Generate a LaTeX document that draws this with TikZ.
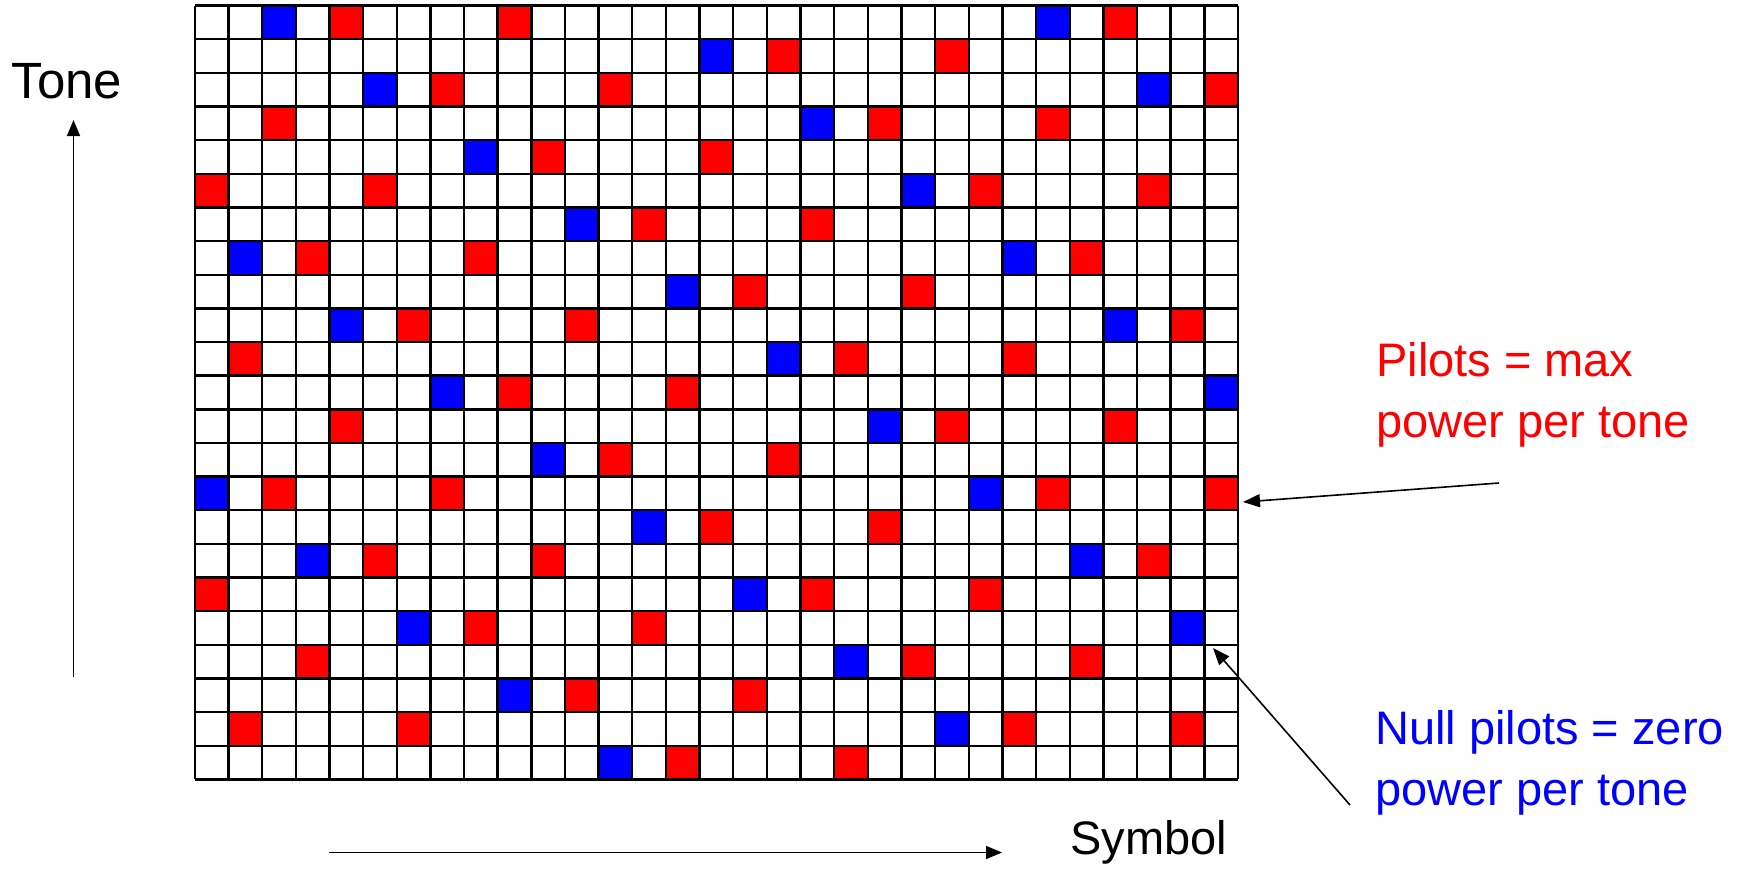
\documentclass[tikz,border=0pt]{standalone}
\usepackage{fontspec}
\setmainfont{Liberation Sans}
\usetikzlibrary{arrows.meta}
\begin{document}
\begin{tikzpicture}[x=1pt,y=-1pt,
  lbl/.style={inner sep=0pt,font=\fontsize{47}{61}\selectfont,align=left},
  axis/.style={line width=1.6pt,-{Triangle[length=16pt,width=13pt]}},
  pointer/.style={line width=1.6pt,-{Triangle[length=17pt,width=13pt]}},
  pilotcell/.style={fill=red},
  nullcell/.style={fill=blue},
  gridline/.style={line width=2.4pt,black}]
\useasboundingbox (0,0) rectangle (1745,868);
\def\gx{194.8}\def\gy{5.5}\def\cs{33.65}
% colored cells
\foreach \c/\r in {4/0,9/0,27/0,17/1,22/1,7/2,12/2,30/2,2/3,20/3,25/3,10/4,15/4,
  0/5,5/5,23/5,28/5,13/6,18/6,3/7,8/7,26/7,16/8,21/8,6/9,11/9,29/9,1/10,19/10,24/10,
  9/11,14/11,4/12,22/12,27/12,12/13,17/13,2/14,7/14,25/14,30/14,15/15,20/15,
  5/16,10/16,28/16,0/17,18/17,23/17,8/18,13/18,3/19,21/19,26/19,11/20,16/20,
  1/21,6/21,24/21,29/21,14/22,19/22}
  \fill[pilotcell] ({\gx+\c*\cs},{\gy+\r*\cs}) rectangle ++(\cs,\cs);
\foreach \c/\r in {2/0,25/0,15/1,5/2,28/2,18/3,8/4,21/5,11/6,1/7,24/7,14/8,4/9,27/9,
  17/10,7/11,30/11,20/12,10/13,0/14,23/14,13/15,3/16,26/16,16/17,6/18,29/18,19/19,
  9/20,22/21,12/22}
  \fill[nullcell] ({\gx+\c*\cs},{\gy+\r*\cs}) rectangle ++(\cs,\cs);
% grid
\foreach \i in {0,...,31}
  \draw[gridline] ({\gx+\i*\cs},{\gy}) -- ({\gx+\i*\cs},{\gy+23*\cs});
\foreach \j in {0,...,23}
  \draw[gridline] ({\gx},{\gy+\j*\cs}) -- ({\gx+31*\cs},{\gy+\j*\cs});
% labels
\node[lbl,font=\fontsize{51}{61}\selectfont] (tone) at (67,81) {Tone};
\node[lbl,anchor=west] (symbol) at (1070,842) {Symbol};
\node[lbl,anchor=west,text=red] (pilots) at (1376,395) {Pilots = max\\power per tone};
\node[lbl,anchor=west,text=blue] (nulls) at (1375,763) {Null pilots = zero\\power per tone};
% arrows
\coordinate (tonetail) at (73.5,677);
\coordinate (tonetip) at (73.5,120);
\coordinate (symtail) at (329,852.5);
\coordinate (symtip) at (1002,852.5);
\coordinate (pilottail) at (1499,483);
\coordinate (pilottip) at (1243,502);
\coordinate (nulltail) at (1350,805);
\coordinate (nulltip) at (1213,648);
\draw[axis] (tonetail) -- (tonetip);
\draw[axis] (symtail) -- (symtip);
\draw[pointer] (pilottail) -- (pilottip);
\draw[pointer] (nulltail) -- (nulltip);
\end{tikzpicture}
\end{document}
